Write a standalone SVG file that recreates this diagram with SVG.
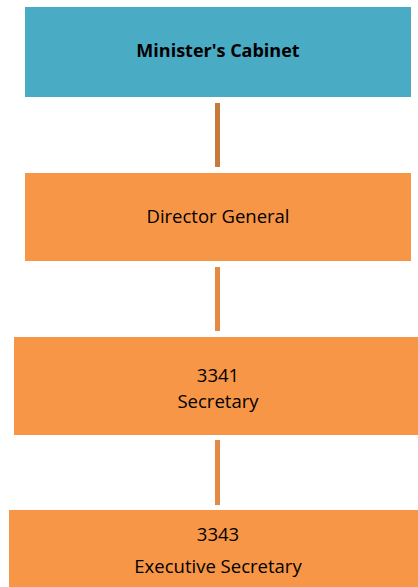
<svg xmlns="http://www.w3.org/2000/svg" width="418" height="587" viewBox="0 0 418 587">
<style>
.box{fill:#F79646;}
.t{font-family:"Open Sans","Liberation Sans",sans-serif;font-size:18.5px;fill:#000;text-anchor:middle;}
.b{font-weight:bold;font-size:18px;}
.c{stroke-width:5;}
</style>
<rect width="418" height="587" fill="#fff"/>
<g id="connectors">
<line class="c" x1="217.5" y1="103" x2="217.5" y2="167" stroke="#C87A3A"/>
<line class="c" x1="217.5" y1="267" x2="217.5" y2="331" stroke="#E48A43"/>
<line class="c" x1="217.5" y1="440" x2="217.5" y2="505" stroke="#E48A43"/>
</g>
<g id="ministers-cabinet">
<rect x="25" y="7" width="386" height="90" fill="#4AABC5"/>
<text class="t b" x="218" y="57">Minister's Cabinet</text>
</g>
<g id="director-general">
<rect class="box" x="25" y="173" width="386" height="88"/>
<text class="t" x="218" y="223">Director General</text>
</g>
<g id="secretary">
<rect class="box" x="14" y="337" width="404" height="98"/>
<text class="t" x="218" y="382">3341</text>
<text class="t" x="218" y="408">Secretary</text>
</g>
<g id="executive-secretary">
<rect class="box" x="9" y="510" width="409" height="77"/>
<text class="t" x="218" y="541">3343</text>
<text class="t" x="218" y="573">Executive Secretary</text>
</g>
</svg>
